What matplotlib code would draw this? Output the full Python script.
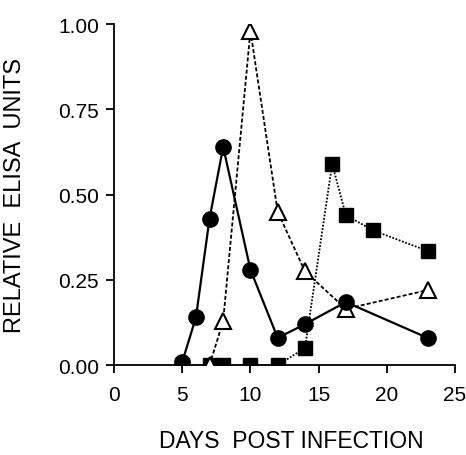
import numpy as np
import matplotlib
matplotlib.use("Agg")
from matplotlib import pyplot as plt

plt.rcParams['font.family'] = ['Liberation Sans', 'DejaVu Sans']

# circles, solid line
circle_days = [5, 6, 7, 8, 10, 12, 14, 17, 23]
circle_vals = [0.01, 0.14, 0.43, 0.64, 0.28, 0.08, 0.12, 0.185, 0.08]

# filled squares, dotted line
square_days = [5, 7, 8, 10, 12, 14, 16, 17, 19, 23]
square_vals = [0.0, 0.0, 0.0, 0.0, 0.0, 0.05, 0.59, 0.44, 0.395, 0.335]

# open triangles, dashed line
tri_days = [7, 8, 10, 12, 14, 17, 23]
tri_vals = [0.0, 0.13, 0.98, 0.45, 0.275, 0.165, 0.22]

x_ticks = [0, 5, 10, 15, 20, 25]
y_ticks = [0.0, 0.25, 0.5, 0.75, 1.0]

fig = plt.figure(figsize=(4.66, 4.56), dpi=100)
ax = fig.add_axes([0.245, 0.197, 0.731, 0.748])

ax.plot(tri_days, tri_vals, color='black', linestyle=(0, (2.2, 1.2)), linewidth=1.3,
        marker='^', markersize=11, markerfacecolor='white', markeredgecolor='black',
        markeredgewidth=1.5, zorder=3)
ax.plot(square_days, square_vals, color='black', linestyle=(0, (1, 0.9)), linewidth=1.3,
        marker='s', markersize=10.5, markerfacecolor='black', markeredgecolor='black', zorder=2)
ax.plot(circle_days, circle_vals, color='black', linestyle='-', linewidth=1.6,
        marker='o', markersize=11, markerfacecolor='black', markeredgecolor='black', zorder=4)

ax.set_xlim(0, 25)
ax.set_ylim(0, 1.0)
ax.set_xticks(x_ticks)
ax.set_xticklabels([str(t) for t in x_ticks])
ax.set_yticks(y_ticks)
ax.set_yticklabels(["%.2f" % t for t in y_ticks])

ax.spines['top'].set_visible(False)
ax.spines['right'].set_visible(False)
ax.spines['left'].set_linewidth(1.3)
ax.spines['bottom'].set_linewidth(1.3)
ax.spines['left'].set_bounds(0, 1.0)
ax.tick_params(direction='out', length=6, width=1.3, labelsize=15)
ax.tick_params(axis='x', pad=8)
ax.tick_params(axis='y', pad=5)

ax.set_xlabel("DAYS  POST INFECTION", fontsize=16.5, va='center')
ax.set_ylabel("RELATIVE  ELISA  UNITS", fontsize=17, va='center')
ax.xaxis.set_label_coords(0.519, -0.22)
ax.yaxis.set_label_coords(-0.29, 0.5)

plt.savefig("out.png", dpi=100)
